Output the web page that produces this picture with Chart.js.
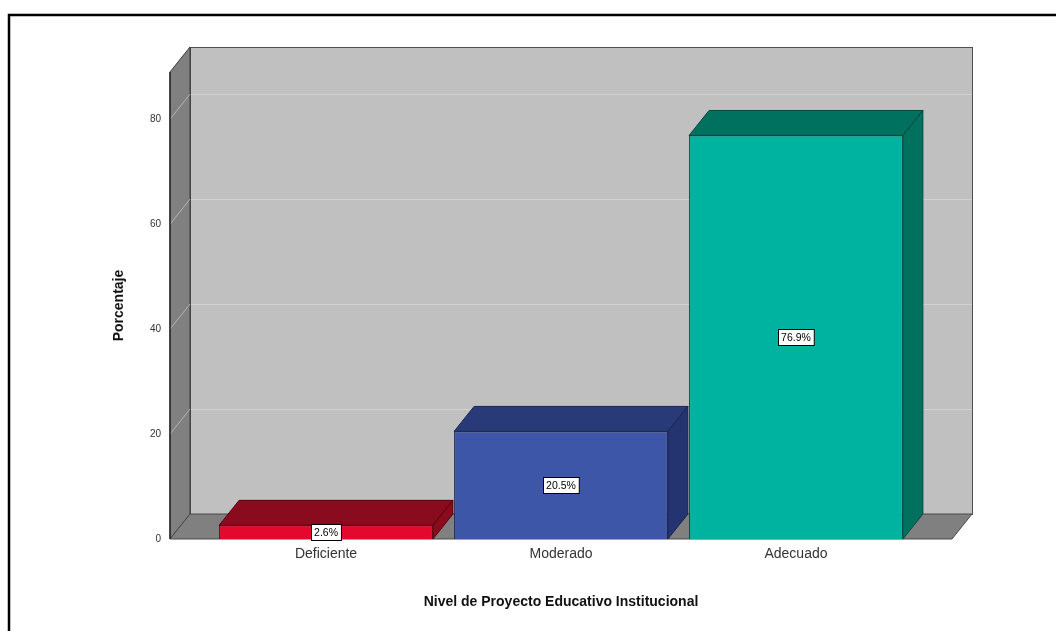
<!DOCTYPE html>
<html><head><meta charset="utf-8">
<script src="https://cdn.jsdelivr.net/npm/chart.js@4/dist/chart.umd.min.js"></script>
<style>html,body{margin:0;padding:0;background:#fff}</style>
</head><body>
<canvas id="c" width="1056" height="631"></canvas>
<script>
const categories = ['Deficiente', 'Moderado', 'Adecuado'];
const percentages = [2.6, 20.5, 76.9];
const yTicks = [0, 20, 40, 60, 80];
const frontColors = ['#e3082c', '#3d56a8', '#00b3a0'];
const topColors = ['#8a0a1e', '#283a78', '#00705f'];
const sideColors = ['#8a0a1e', '#243470', '#00705f'];
const edgeColors = ['#5a0010', '#1a2550', '#004a3e'];
const DX = 20, DY = 25;

function poly(ctx, pts, fill, stroke) {
  ctx.beginPath();
  ctx.moveTo(pts[0][0], pts[0][1]);
  for (let i = 1; i < pts.length; i++) ctx.lineTo(pts[i][0], pts[i][1]);
  ctx.closePath();
  if (fill) { ctx.fillStyle = fill; ctx.fill(); }
  if (stroke) { ctx.strokeStyle = stroke; ctx.lineWidth = 1; ctx.stroke(); }
}
function line(ctx, x1, y1, x2, y2, color, w) {
  ctx.beginPath(); ctx.moveTo(x1, y1); ctx.lineTo(x2, y2);
  ctx.strokeStyle = color; ctx.lineWidth = w || 1; ctx.stroke();
}

const box3d = {
  id: 'box3d',
  beforeDraw(chart) {
    const ctx = chart.ctx;
    ctx.save();
    ctx.fillStyle = '#fff';
    ctx.fillRect(0, 0, chart.width, chart.height);
    ctx.strokeStyle = '#000';
    ctx.lineWidth = 2.5;
    ctx.strokeRect(9, 15, 1400, 1400);
    ctx.restore();
  },
  beforeDatasetsDraw(chart) {
    const ctx = chart.ctx;
    const { left, right, top, bottom } = chart.chartArea;
    const y = chart.scales.y;
    ctx.save();
    ctx.fillStyle = '#c0c0c0';
    ctx.fillRect(left + DX, top - DY, right - left, bottom - top);
    yTicks.forEach(v => {
      const py = Math.round(y.getPixelForValue(v)) + 0.5;
      line(ctx, left + DX, py - DY, right + DX, py - DY, '#d2d2d2', 1.2);
    });
    ctx.strokeStyle = '#505050';
    ctx.lineWidth = 1;
    ctx.strokeRect(left + DX + 0.5, top - DY + 0.5, right - left, bottom - top);
    poly(ctx, [[left, top], [left + DX, top - DY], [left + DX, bottom - DY], [left, bottom]], '#808080', '#3a3a3a');
    yTicks.forEach(v => {
      const py = y.getPixelForValue(v);
      if (v > 0) line(ctx, left, py, left + DX, py - DY, '#b4b4b4', 1);
    });
    poly(ctx, [[left, bottom], [left + DX, bottom - DY], [right + DX, bottom - DY], [right, bottom]], '#808080', '#4a4a4a');
    line(ctx, left, top, left, bottom, '#2a2a2a', 1.5);
    ctx.restore();
  },
  afterDatasetsDraw(chart) {
    const ctx = chart.ctx;
    const meta = chart.getDatasetMeta(0);
    ctx.save();
    meta.data.forEach((bar, i) => {
      const p = bar.getProps(['x', 'y', 'base', 'width'], true);
      const l = p.x - p.width / 2, r = p.x + p.width / 2;
      poly(ctx, [[l, p.y], [l + DX, p.y - DY], [r + DX, p.y - DY], [r, p.y]], topColors[i], edgeColors[i]);
      poly(ctx, [[r, p.y], [r + DX, p.y - DY], [r + DX, p.base - DY], [r, p.base]], sideColors[i], edgeColors[i]);
    });
    meta.data.forEach((bar, i) => {
      const p = bar.getProps(['x', 'y', 'base'], true);
      const txt = percentages[i].toFixed(1) + '%';
      ctx.font = '10.5px "Liberation Sans", Arial, sans-serif';
      const tw = ctx.measureText(txt).width;
      const cy = (p.y + p.base) / 2;
      const w = tw + 6, h = 16;
      const bx = Math.round(p.x - w / 2) + 0.5, by = Math.round(cy - h / 2) + 0.5;
      ctx.fillStyle = '#fff';
      ctx.fillRect(bx, by, w, h);
      ctx.strokeStyle = '#000';
      ctx.lineWidth = 1;
      ctx.strokeRect(bx, by, w, h);
      ctx.fillStyle = '#000';
      ctx.textAlign = 'center';
      ctx.textBaseline = 'middle';
      ctx.fillText(txt, p.x, cy + 0.5);
    });
    ctx.restore();
  }
};

new Chart(document.getElementById('c'), {
  type: 'bar',
  data: {
    datasets: [{
      data: percentages.map((v, i) => ({ x: i, y: v })),
      backgroundColor: frontColors,
      borderColor: edgeColors,
      borderWidth: 1,
      categoryPercentage: 1,
      barPercentage: 0.91
    }]
  },
  options: {
    responsive: false,
    animation: false,
    layout: { padding: { left: 105, right: 104, top: 72, bottom: 20 } },
    plugins: { legend: { display: false }, tooltip: { enabled: false } },
    scales: {
      x: {
        type: 'linear',
        offset: false,
        bounds: 'data',
        min: -0.664,
        max: 2.664,
        grid: { display: false, drawTicks: false, offset: false },
        border: { display: false },
        afterBuildTicks(scale) { scale.ticks = categories.map((c, i) => ({ value: i })); },
        afterFit(scale) { scale.height = 72; },
        ticks: {
          stepSize: 1,
          includeBounds: false,
          padding: 7,
          color: '#333',
          font: { family: '"Liberation Sans", Arial, sans-serif', size: 14 },
          callback: v => categories[v] || '',
          maxRotation: 0
        },
        title: {
          display: true,
          text: 'Nivel de Proyecto Educativo Institucional',
          color: '#111',
          padding: { top: 0, bottom: 0 },
          font: { family: '"Liberation Sans", Arial, sans-serif', size: 14, weight: 'bold' }
        }
      },
      y: {
        min: 0,
        max: 89,
        grid: { display: false, drawTicks: false },
        border: { display: false },
        afterBuildTicks(scale) { scale.ticks = yTicks.map(v => ({ value: v })); },
        afterFit(scale) { scale.width = 65; },
        ticks: {
          padding: 9,
          color: '#333',
          font: { family: '"Liberation Sans", Arial, sans-serif', size: 10 }
        },
        title: {
          display: true,
          text: 'Porcentaje',
          color: '#111',
          padding: { top: 6, bottom: 0 },
          font: { family: '"Liberation Sans", Arial, sans-serif', size: 14, weight: 'bold' }
        }
      }
    }
  },
  plugins: [box3d]
});
</script>
</body></html>
